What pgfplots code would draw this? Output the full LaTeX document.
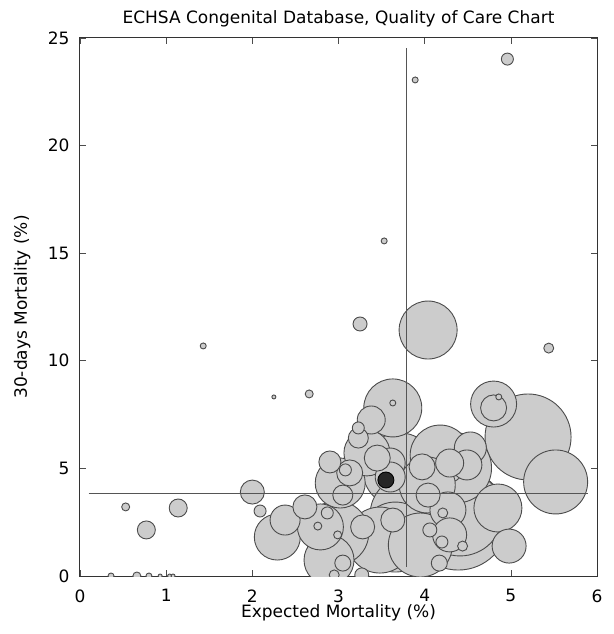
\documentclass[border=0pt]{standalone}
\usepackage{fontspec}
\setmainfont{DejaVu Sans}
\usepackage{pgfplots}
\usepackage{pgfplotstable}
\pgfplotsset{compat=1.18}

\definecolor{bubblefill}{RGB}{204,204,204}
\definecolor{bubbleedge}{RGB}{75,75,75}
\definecolor{refline}{RGB}{85,85,85}

% centres: expected (x) and observed (y) mortality in %, r = bubble radius (pt)
\pgfplotstableread{
x     y      r
4.39  2.60   50
3.71  4.93   37
4.41  2.93   43
5.20  6.46   43
3.83  2.83   40
4.37  5.02   35
3.66  1.81   35
3.48  1.67   33
5.52  4.37   32
3.95  1.44   32
2.98  2.00   32
4.18  5.62   30
4.04  11.43  29
3.63  7.81   29
4.03  4.23   28
3.02  4.32   25
2.89  0.74   25
4.85  3.16   24
4.80  7.99   23
3.33  5.72   23
2.29  1.81   23
2.79  2.28   23
4.98  1.39   17
4.53  5.95   16
4.27  3.07   18
4.29  1.91   17
2.38  2.60   15
3.60  5.25   15
3.60  4.60   15
4.49  5.16   15
3.38  7.25   14
4.29  5.25   14
3.13  4.79   13
3.45  5.48   13
3.97  5.07   13
4.80  7.81   13
2.61  3.21   12
2.00  3.90   12
3.28  2.28   12
3.63  2.60   12
4.04  3.76   12
2.90  5.30   11
3.23  6.41   10
3.05  3.76   10
0.77  2.14   9
1.14  3.16   9
3.05  0.60   8
4.17  0.60   8
3.27  0.05   7
3.25  11.71  7
4.06  2.14   7
3.23  6.88   6
3.08  4.93   6
2.87  2.93   6
4.20  1.58   6
2.09  3.02   6
4.96  24.02  6
2.95  0.05   5
4.21  2.93   5
4.44  1.39   5
5.44  10.59  5
2.76  2.32   4
2.99  1.91   4
2.66  8.46   4
0.53  3.21   4
0.66  0.00   4
3.89  23.05  3
3.53  15.57  3
1.43  10.69  3
3.63  8.04   3
4.86  8.32   3
0.36  0.00   3
0.80  0.00   3
2.25  8.32   2
0.93  0.00   2
1.04  0.00   2
1.08  0.00   2
}\bubbles

% highlighted centre
\pgfplotstableread{
x     y     r
3.55  4.46  8
}\highlight

% bubble marks: fixed colours, radius taken from the r column
\pgfplotsset{
  bubble/.style 2 args={scatter, only marks, mark=*,
    mark options={line width=0.9pt},
    scatter/use mapped color={fill=#1, draw=#2},
    visualization depends on={\thisrow{r} \as \rad},
    scatter/@pre marker code/.append style={/tikz/mark size=\rad pt}},
}

\begin{document}
\begin{tikzpicture}
\begin{axis}[
  scale only axis,
  width=517pt, height=538pt,
  xmin=0, xmax=6, ymin=0, ymax=25,
  xtick={0,1,...,6}, ytick={0,5,...,25},
  tick align=inside,
  major tick length=6pt,
  tick style={black!70, line width=0.6pt},
  axis line style={black!80, line width=1pt},
  clip marker paths=true,
  /pgf/number format/assume math mode=true,
  tick label style={font=\fontsize{17}{20}\selectfont},
  xticklabel style={yshift=-10pt},
  yticklabel style={xshift=-7pt},
  title={ECHSA Congenital Database, Quality of Care Chart},
  every axis title/.style={at={(axis description cs:0.5,1.036)}, anchor=center,
    font=\fontsize{17}{20}\selectfont},
  xlabel={Expected Mortality (\%)},
  every axis x label/.style={at={(axis description cs:0.5,-0.069)}, anchor=center,
    font=\fontsize{17}{20}\selectfont},
  ylabel={30-days Mortality (\%)},
  every axis y label/.style={at={(axis description cs:-0.112,0.5)}, rotate=90, anchor=center,
    font=\fontsize{17}{20}\selectfont},
]
\addplot[bubble={bubblefill}{bubbleedge}] table[x=x, y=y] {\bubbles};
\addplot[bubble={black!85}{black}] table[x=x, y=y] {\highlight};
% reference lines at the overall expected and observed mortality
\addplot[refline, line width=1pt] coordinates {(3.79,0.42) (3.79,24.55)};
\addplot[refline, line width=1pt] coordinates {(0.1,3.85) (5.89,3.85)};
\end{axis}
\pgfresetboundingbox
\path (current axis.south west) +(-80pt,-58pt);
\path (current axis.north east) +(17pt,38pt);
\end{tikzpicture}
\end{document}
